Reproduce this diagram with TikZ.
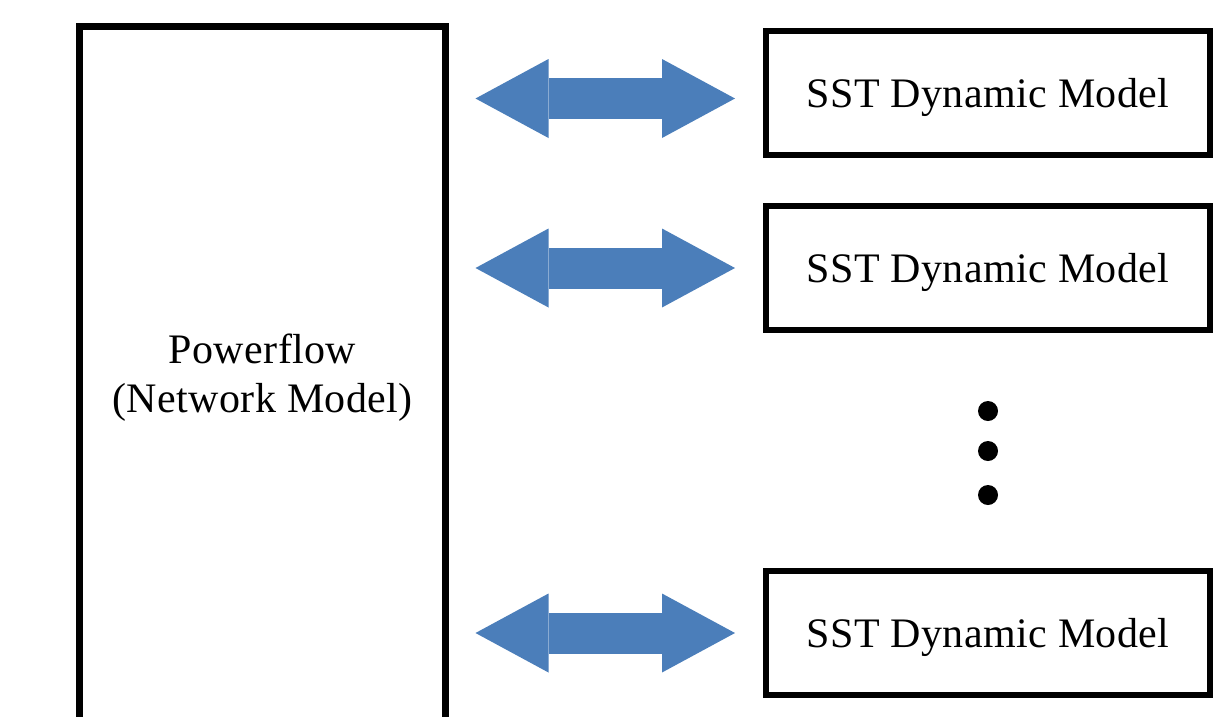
\documentclass[tikz,border=0pt]{standalone}
\usepackage{fontspec}
\setmainfont[LetterSpace=1]{Liberation Serif}
\usetikzlibrary{arrows.meta}
\definecolor{flowblue}{HTML}{4B7EBA}

\begin{document}
\begin{tikzpicture}[x=1pt,y=-1pt]
\tikzstyle{model}=[draw,rectangle,inner sep=0pt,line width=6pt,minimum width=444pt,minimum height=124pt,text depth=0pt,font=\fontsize{42pt}{49pt}\selectfont]
\tikzstyle{dot}=[circle,fill=black,minimum size=20pt,inner sep=0pt]
\tikzstyle{flow}=[draw=flowblue,line width=41pt,>={Triangle[width=79pt,length=73pt,line width=0pt]},<->,shorten <=26.5pt,shorten >=28pt]
\useasboundingbox (0,0) rectangle (1218,716);
\clip (0,0) rectangle (1218,716);
    \node[draw,rectangle,inner sep=0pt,line width=7pt,minimum width=366pt,minimum height=703pt,align=center,font=\fontsize{42pt}{49pt}\selectfont] (0) at (262.5,378) {Powerflow\\(Network Model)};
    \node[model] (1) at (988,92.5) {SST Dynamic Model};
    \node[model] (2) at (988,268) {SST Dynamic Model};
    \node[model] (3) at (988,633) {SST Dynamic Model};
    \foreach \y/\n in {411/1,451/2,495/3}
        \node[dot] (d\n) at (988,\y) {};
    \draw[flow] ([yshift=-6pt]0.east |- 1.west) -- ([yshift=-6pt]1.west);
    \draw[flow] (0.east |- 2.west) -- (2.west);
    \draw[flow] (0.east |- 3.west) -- (3.west);
\end{tikzpicture}
\end{document}
